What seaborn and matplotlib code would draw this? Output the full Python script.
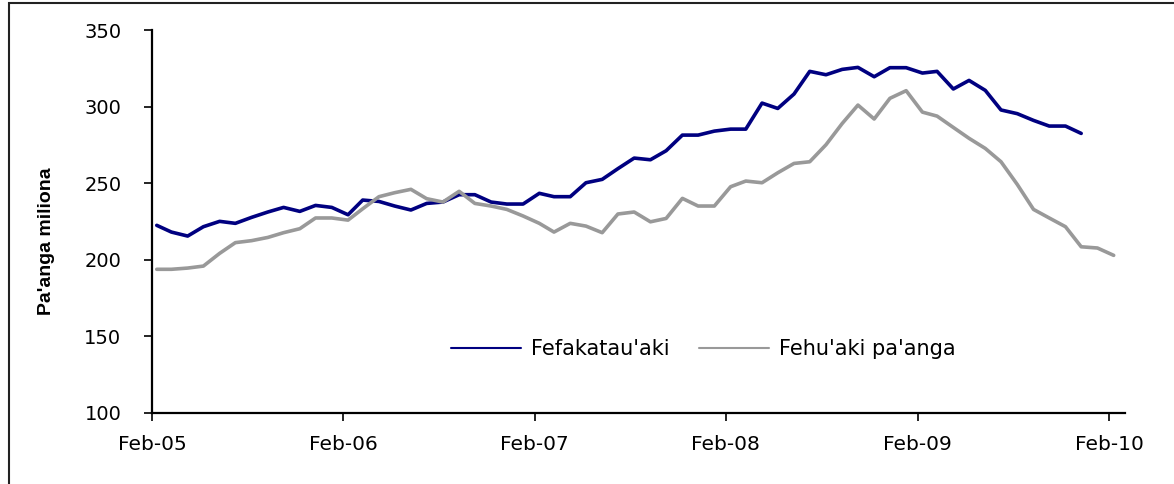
import matplotlib
matplotlib.use("Agg")
import matplotlib.pyplot as plt
import matplotlib.dates as mdates
from matplotlib.patches import Rectangle
import numpy as np
import pandas as pd
import seaborn as sns

# monthly series, Feb-05 .. Feb-10
trade = [222.5, 218.1, 215.5, 221.6, 225.1, 223.8, 227.7, 231.2, 234.2, 231.6,
         235.5, 234.2, 229.4, 239.0, 238.1, 235.1, 232.5, 236.8, 237.7, 242.5,
         242.5, 237.7, 236.4, 236.4, 243.4, 241.2, 241.2, 250.3, 252.5, 259.5,
         266.4, 265.3, 271.2, 281.4, 281.4, 284.0, 285.3, 285.3, 302.3, 298.8,
         308.2, 323.0, 320.8, 324.3, 325.6, 319.5, 325.4, 325.4, 321.9, 323.0,
         311.5, 317.1, 310.6, 297.8, 295.4, 291.0, 287.3, 287.3, 282.5,
         np.nan, np.nan]
money = [193.8, 193.8, 194.6, 195.9, 204.2, 211.2, 212.5, 214.6, 217.7, 220.3,
         227.3, 227.3, 225.9, 233.3, 241.2, 243.8, 246.0, 239.9, 237.7, 244.7,
         236.8, 235.1, 232.9, 228.6, 223.8, 218.1, 223.8, 222.0, 217.7, 229.9,
         231.2, 224.8, 227.0, 240.1, 235.1, 235.1, 247.7, 251.4, 250.3, 256.8,
         262.9, 264.0, 275.1, 289.0, 301.0, 291.9, 305.4, 310.4, 296.4, 293.8,
         286.4, 279.3, 272.7, 264.0, 249.2, 232.9, 227.3, 221.6, 208.5, 207.7,
         202.9]
labels = ["Fefakatau'aki", "Fehu'aki pa'anga"]
colors = ["#000080", "#999999"]
yticks = [100, 150, 200, 250, 300, 350]

dates = pd.date_range("2005-02-01", periods=len(money), freq="MS") + pd.Timedelta(days=9)
df = pd.DataFrame({"date": dates, labels[0]: trade, labels[1]: money})

sns.set_style("white")
plt.rcParams["font.family"] = ["DejaVu Sans"]
plt.rcParams["text.color"] = "black"
plt.rcParams["xtick.color"] = "black"
plt.rcParams["ytick.color"] = "black"
plt.rcParams["axes.labelcolor"] = "black"

fig = plt.figure(figsize=(11.74, 4.84), dpi=100)
ax = fig.add_axes([0.1295, 0.1467, 0.8285, 0.7913])

for lab, col in zip(labels, colors):
    sns.lineplot(data=df, x="date", y=lab, color=col, linewidth=2.6, label=lab, ax=ax)

ax.set_ylim(100, 350)
ax.set_yticks(yticks)
ax.set_xlim(pd.Timestamp("2005-02-01"), pd.Timestamp("2010-03-03"))
ax.xaxis.set_major_locator(mdates.MonthLocator(bymonth=2))
ax.xaxis.set_major_formatter(mdates.DateFormatter("%b-%y"))

for s in ["top", "right"]:
    ax.spines[s].set_visible(False)
for s in ["left", "bottom"]:
    ax.spines[s].set_color("black")
    ax.spines[s].set_linewidth(1.6)

ax.tick_params(axis="y", direction="out", length=6, width=1.2, colors="black",
               labelsize=14, pad=16, left=True)
ax.tick_params(axis="x", direction="out", length=6, width=1.2, colors="black",
               labelsize=14.5, pad=10, bottom=True)
ax.set_xlabel("")
ax.set_ylabel("Pa'anga miliona", fontsize=14, fontweight="bold",
              family="Liberation Sans", color="black")
ax.yaxis.set_label_coords(-0.10, 0.449)

leg = ax.legend(ncol=2, loc="center left", bbox_to_anchor=(0.307, 0.167),
                frameon=False, fontsize=15, handlelength=3.4, handletextpad=0.45,
                columnspacing=1.4, borderpad=0, borderaxespad=0)
for ln in leg.get_lines():
    ln.set_linewidth(1.5)
for t in leg.get_texts():
    t.set_color("black")

# outer frame (only left/top edges visible in the original)
fig.patches.append(Rectangle((9 / 1174, -0.2), 1.2, 1.2 - 3 / 484,
                             transform=fig.transFigure, fill=False,
                             edgecolor="#222222", linewidth=1.5))

fig.savefig("out.png", dpi=100)
